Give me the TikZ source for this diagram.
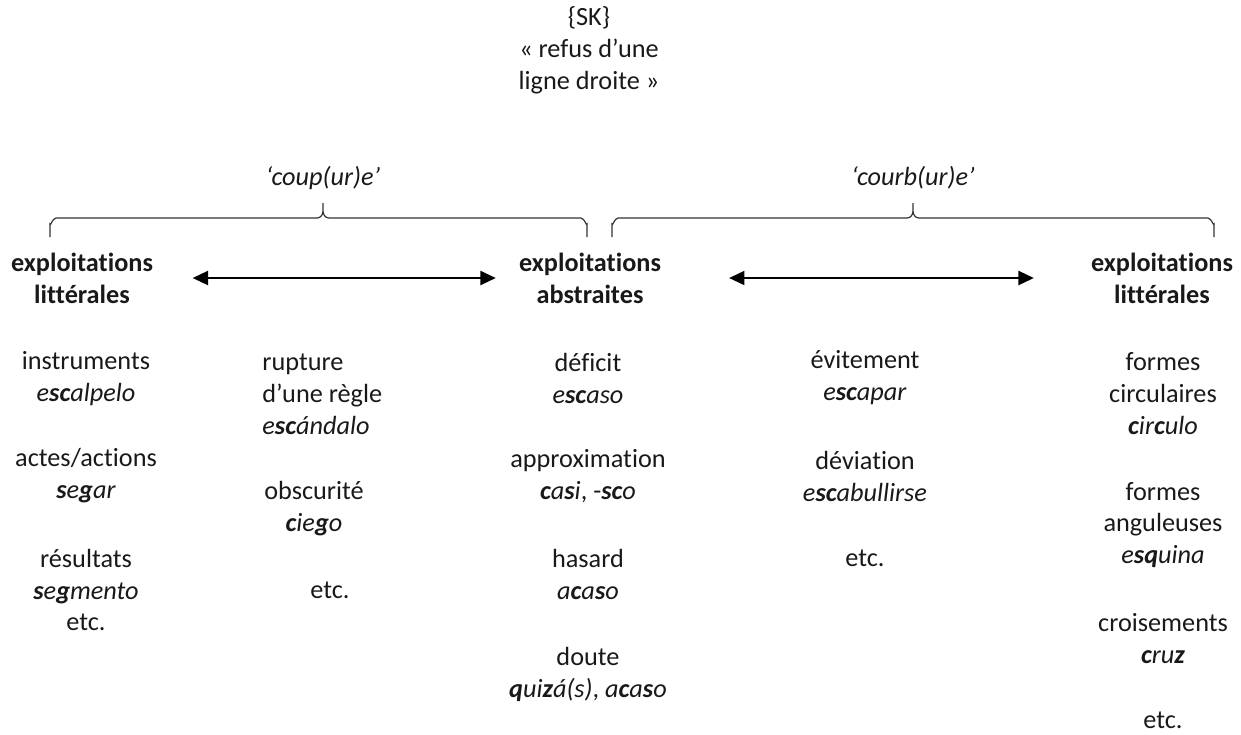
\documentclass[tikz,border=0pt]{standalone}
\usepackage{fontspec}
\setmainfont{Carlito}[Ligatures=NoCommon]
\usetikzlibrary{arrows.meta,calc}

\newcommand{\bs}[1]{\textbf{#1}}

\begin{document}
\begin{tikzpicture}[x=0.457pt,y=-0.457pt,
  every node/.style={font=\fontsize{12}{14.6}\selectfont,align=center,inner sep=0pt,text=black!90},
  head/.style={font=\fontsize{12}{14.6}\selectfont\bfseries},
  biarrow/.style={{Triangle[length=7pt,width=6.5pt]}-{Triangle[length=7pt,width=6.5pt]},line width=0.6pt},
  bracket/.style={line width=0.55pt,black!80}]
  \useasboundingbox (0,0) rectangle (1241,734);
  % schema
  \node (sk) at (589,50) {\{SK\}\\« refus d’une\\ligne droite »};
  % accolades
  \node (coup) at (323,178) {\itshape ‘coup(ur)e’};
  \node (courb) at (913,178) {\itshape ‘courb(ur)e’};
  \draw[bracket] (50,237) -- (50,224) to[out=-90,in=180] (56,218) -- (317,218)
    to[out=0,in=-90] (323,211) -- (323,203) -- (323,211)
    to[out=-90,in=180] (329,218) -- (581,218) to[out=0,in=-90] (587,224) -- (587,237);
  \draw[bracket] (612,237) -- (612,224) to[out=-90,in=180] (618,218) -- (907,218)
    to[out=0,in=-90] (913,211) -- (913,203) -- (913,211)
    to[out=-90,in=180] (919,218) -- (1208,218) to[out=0,in=-90] (1214,224) -- (1214,237);
  % exploitations
  \node[head] (litg) at (82,278) {exploitations\\littérales};
  \node[head] (abs) at (590,278) {exploitations\\abstraites};
  \node[head] (litd) at (1162,278) {exploitations\\littérales};
  \draw[biarrow,shorten <=18pt,shorten >=10.5pt] (litg) -- (abs);
  \draw[biarrow,shorten <=31pt,shorten >=26pt] (abs) -- (litd);
  % colonne 1
  \node (instr) at (86,379) {instruments\\\textit{e\bs{sc}alpelo}};
  \node (actes) at (86,476) {actes/actions\\\textit{\bs{s}e\bs{g}ar}};
  \node (resu) at (86,590) {résultats\\\textit{\bs{s}e\bs{g}mento}\\etc.};
  % colonne 2
  \node[anchor=west,align=left] (rupt) at (262,394) {rupture\\d’une règle\\\textit{e\bs{sc}ándalo}};
  \node (obsc) at (314,509) {obscurité\\\textit{\bs{c}ie\bs{g}o}};
  \node (etc2) at (330,590) {etc.};
  % colonne 3
  \node (defi) at (588,378) {déficit\\\textit{e\bs{sc}aso}};
  \node (appr) at (588,476) {approximation\\\textit{\bs{c}a\bs{s}i}, -\textit{\bs{sc}o}};
  \node (hasa) at (588,574) {hasard\\\textit{a\bs{c}a\bs{s}o}};
  \node (dout) at (588,674) {doute\\\textit{\bs{q}ui\bs{z}á(s)}, \textit{a\bs{c}a\bs{s}o}};
  % colonne 4
  \node (evit) at (865,378) {évitement\\\textit{e\bs{sc}apar}};
  \node (devi) at (865,476) {déviation\\\textit{e\bs{sc}abullirse}};
  \node (etc4) at (865,558) {etc.};
  % colonne 5
  \node (circ) at (1163,394) {formes\\circulaires\\\textit{\bs{c}ir\bs{c}ulo}};
  \node (angu) at (1163,525) {formes\\anguleuses\\\textit{e\bs{sq}uina}};
  \node (crois) at (1163,639) {croisements\\\textit{\bs{c}ru\bs{z}}};
  \node (etc5) at (1163,720) {etc.};
\end{tikzpicture}
\end{document}
